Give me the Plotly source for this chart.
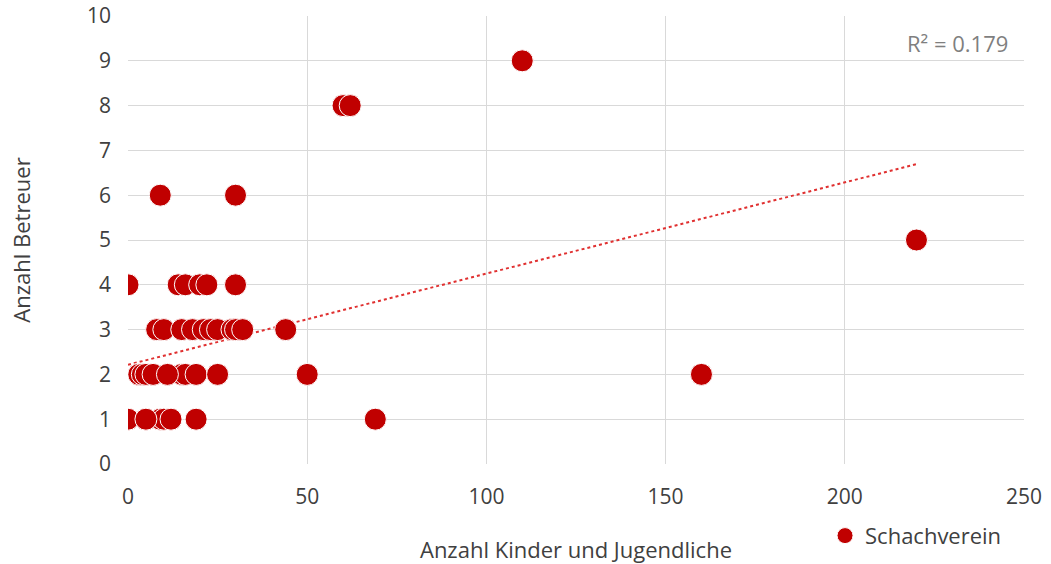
import numpy as np
import plotly.graph_objects as go

# Kinder/Jugendliche (x) und Betreuer (y) je Schachverein;
# mehrere Vereine liegen auf identischen Koordinaten übereinander
kinder = [0, 14, 16, 20, 22, 30,
          8, 10, 15, 18, 21, 23, 25, 29, 30, 32, 44,
          3, 4, 5, 7, 11, 15, 16, 19, 25, 50, 160,
          0, 5, 9, 10, 12, 19, 69,
          9, 30,
          60, 62,
          110,
          220,
          0, 5, 9, 10, 12, 3, 4, 5, 7, 11, 0, 5]
betreuer = [4, 4, 4, 4, 4, 4,
            3, 3, 3, 3, 3, 3, 3, 3, 3, 3, 3,
            2, 2, 2, 2, 2, 2, 2, 2, 2, 2, 2,
            1, 1, 1, 1, 1, 1, 1,
            6, 6,
            8, 8,
            9,
            5,
            1, 1, 1, 1, 1, 2, 2, 2, 2, 2, 1, 1]
r2_label = "R² = 0.179"

x = np.array(kinder, dtype=float)
y = np.array(betreuer, dtype=float)
slope, intercept = np.polyfit(x, y, 1)
xt = np.array([x.min(), x.max()])
yt = slope * xt + intercept

red = "#C00000"
font = "Open Sans, Liberation Sans, sans-serif"
txt = "#404040"

fig = go.Figure()
fig.add_trace(go.Scatter(
    x=xt, y=yt, mode="lines", showlegend=False, hoverinfo="skip",
    line=dict(color="#E03030", width=2, dash="dot"),
))
fig.add_trace(go.Scatter(
    x=kinder, y=betreuer, mode="markers", name="Schachverein",
    marker=dict(color=red, size=22, line=dict(color="white", width=1)),
))

fig.add_annotation(
    x=1, y=1, xref="paper", yref="paper", xanchor="right", yanchor="top",
    xshift=-14, yshift=-10, text=r2_label, showarrow=False,
    font=dict(family=font, size=22, color="#7f7f7f"),
)

axis_common = dict(
    showgrid=True, gridcolor="#d9d9d9", gridwidth=1,
    zeroline=False, showline=False, ticks="", automargin=False,
    tickfont=dict(family=font, size=21, color=txt),
)
fig.update_xaxes(range=[0, 250], dtick=50, ticklabelstandoff=18, title=dict(
    text="Anzahl Kinder und Jugendliche", standoff=34,
    font=dict(family=font, size=22, color=txt)), **axis_common)
fig.update_yaxes(range=[0, 10], dtick=1, ticklabelstandoff=16, title=dict(
    text="Anzahl Betreuer", standoff=50,
    font=dict(family=font, size=22, color=txt)), **axis_common)

fig.update_layout(
    width=1051, height=564,
    margin=dict(l=128, r=27, t=16, b=100, autoexpand=False),
    paper_bgcolor="white", plot_bgcolor="white",
    showlegend=True,
    legend=dict(x=0.785, y=0.05, xref="container", yref="container",
                xanchor="left", yanchor="middle",
                font=dict(family=font, size=22, color=txt),
                bgcolor="rgba(0,0,0,0)"),
)

fig.write_html("out.html")
